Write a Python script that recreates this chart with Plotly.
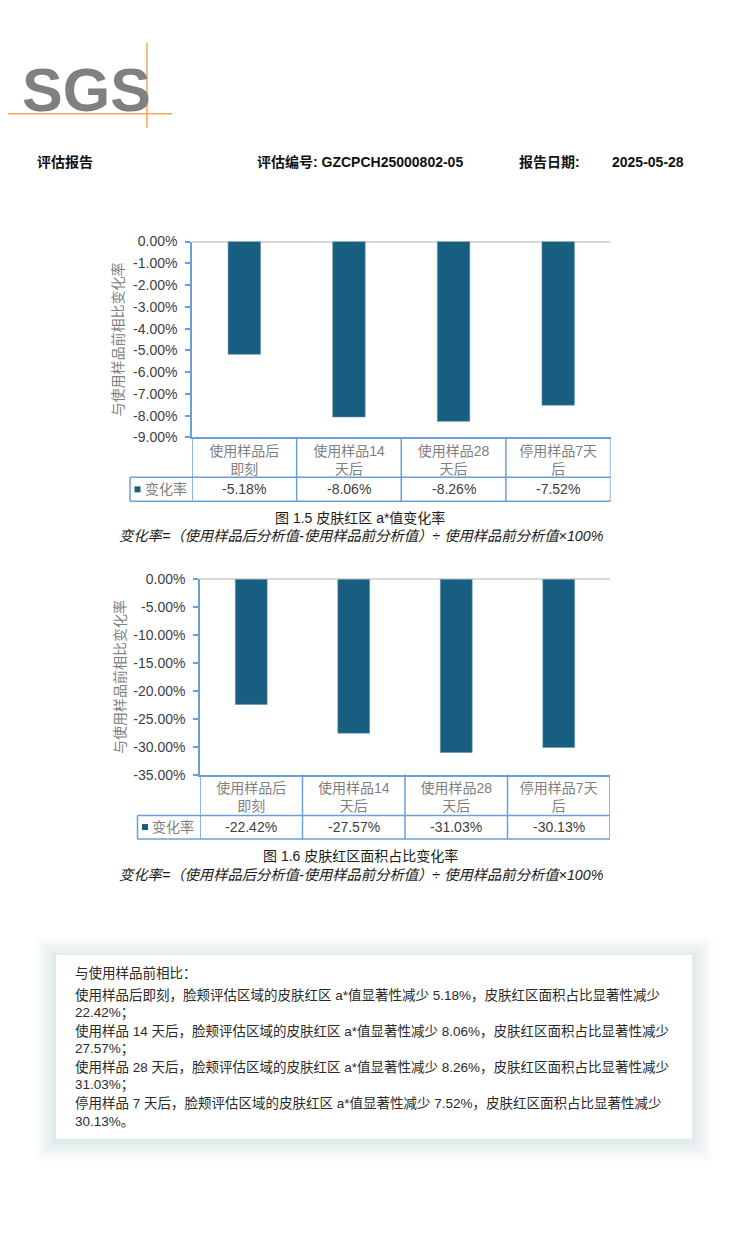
import plotly.graph_objects as go

# The page body keeps the browser's default 8px margin, so the figure is
# sized to fill the remaining area of the 750x1256 window.
PAGE_W, PAGE_H, BODY_M = 750, 1256, 8
W, H = PAGE_W - 2 * BODY_M, PAGE_H - 2 * BODY_M
# observed vertical mapping of the photographed page (y_photo = k*y + c)
V_K, V_C = 0.988, 7.3

# ---------------- data ----------------
categories = ["使用样品后<br>即刻", "使用样品14<br>天后", "使用样品28<br>天后", "停用样品7天<br>后"]
series_name = "变化率"
a_values = [-5.18, -8.06, -8.26, -7.52]
area_values = [-22.42, -27.57, -31.03, -30.13]
a_ticks = [0, -1, -2, -3, -4, -5, -6, -7, -8, -9]
area_ticks = [0, -5, -10, -15, -20, -25, -30, -35]
y_title = "与使用样品前相比变化率"
caption_a = "图 1.5 皮肤红区 a*值变化率"
caption_area = "图 1.6 皮肤红区面积占比变化率"
formula = "变化率=（使用样品后分析值-使用样品前分析值）÷ 使用样品前分析值×100%"
summary_intro = "与使用样品前相比："
summary_periods = ["使用样品后即刻", "使用样品 14 天后", "使用样品 28 天后", "停用样品 7 天后"]
header_left = "评估报告"
header_no = "评估编号: GZCPCH25000802-05"
header_date_label = "报告日期:"
header_date = "2025-05-28"
logo_text = "SGS"

# ---------------- style ----------------
BAR = "#175e80"
BLUE = "#6a9fd8"
GRAY_TXT = "#7f7f7f"
DARK_TXT = "#404040"
FONT = "Liberation Sans, Noto Sans CJK SC, sans-serif"


def px(x):
    """target pixel x -> paper fraction"""
    return (x - BODY_M) / W


def py(y):
    """target pixel y -> paper fraction"""
    yy = (y - V_C) / V_K
    return 1 - (yy - BODY_M) / H


def fmt_pct(v):
    return f"{v:.2f}%"


charts = [
    dict(vals=a_values, ticks=a_ticks, left=192, right=610.5, top=241, bottom=437,
         split=477, tbottom=501, legleft=130, title_x=118, cap_y=518, form_y=536,
         val_y=489, ax="", caption=caption_a),
    dict(vals=area_values, ticks=area_ticks, left=200, right=610, top=579, bottom=774.5,
         split=815.5, tbottom=839, legleft=137.5, title_x=120, cap_y=856, form_y=875,
         val_y=827, ax="2", caption=caption_area),
]

fig = go.Figure()
shapes = []
annotations = []

for c in charts:
    ax = c["ax"]
    xa = "x" + ax
    ya = "y" + ax
    fig.add_trace(go.Bar(
        x=list(range(len(categories))), y=c["vals"], name=series_name,
        xaxis=xa, yaxis=ya, width=0.31,
        marker=dict(color=BAR, line=dict(color="#5f8ea8", width=0.6)),
        showlegend=False, hoverinfo="skip",
    ))
    fig.layout["xaxis" + ax] = dict(
        domain=[px(c["left"]), px(c["right"])], range=[-0.5, len(categories) - 0.5],
        anchor=ya, showline=True, linecolor=BLUE, linewidth=1.5, ticks="",
        tickvals=list(range(len(categories))), ticktext=categories,
        tickfont=dict(family=FONT, size=14, color=GRAY_TXT), showgrid=False,
        zeroline=False, fixedrange=True, ticklabelstandoff=0,
    )
    fig.layout["yaxis" + ax] = dict(
        domain=[py(c["bottom"]), py(c["top"])], range=[min(c["ticks"]), 0],
        anchor=xa, showline=True, linecolor=BLUE, linewidth=1.5,
        ticks="outside", ticklen=5, tickcolor=BLUE, tickwidth=1.5,
        tickvals=c["ticks"], ticktext=[fmt_pct(t) for t in c["ticks"]],
        tickfont=dict(family=FONT, size=14, color=DARK_TXT),
        showgrid=False, zeroline=True, zerolinecolor="#d9d9d9", zerolinewidth=1.5,
        fixedrange=True, ticklabelstandoff=5,
    )
    # data table lines
    for i in range(len(categories) + 1):
        shapes.append(dict(type="line", xref=xa, yref="paper", x0=i - 0.5, x1=i - 0.5,
                           y0=py(c["tbottom"]), y1=py(c["bottom"]),
                           line=dict(color=BLUE, width=1.5)))
    for yy in (c["split"], c["tbottom"]):
        shapes.append(dict(type="line", xref="paper", yref="paper", x0=px(c["legleft"]),
                           x1=px(c["right"]), y0=py(yy), y1=py(yy),
                           line=dict(color=BLUE, width=1.5)))
    shapes.append(dict(type="line", xref="paper", yref="paper", x0=px(c["legleft"]),
                       x1=px(c["legleft"]), y0=py(c["tbottom"]), y1=py(c["split"]),
                       line=dict(color=BLUE, width=1.5)))
    # legend key square
    lx = c["legleft"] + 7.5
    shapes.append(dict(type="rect", xref="paper", yref="paper", x0=px(lx - 3), x1=px(lx + 3),
                       y0=py(c["val_y"] + 3), y1=py(c["val_y"] - 3),
                       fillcolor=BAR, line=dict(width=0)))
    annotations.append(dict(xref="paper", yref="paper", x=px(lx + 5), y=py(c["val_y"]),
                            text=series_name, showarrow=False, xanchor="left", yanchor="middle",
                            font=dict(family=FONT, size=14, color=GRAY_TXT)))
    # values row
    for i, v in enumerate(c["vals"]):
        annotations.append(dict(xref=xa, yref="paper", x=i, y=py(c["val_y"]), text=fmt_pct(v),
                                showarrow=False, xanchor="center", yanchor="middle",
                                font=dict(family=FONT, size=14, color=DARK_TXT)))
    # y title
    annotations.append(dict(xref="paper", yref="paper", x=px(c["title_x"]),
                            y=py((c["top"] + c["bottom"]) / 2), text=y_title, textangle=-90,
                            showarrow=False, xanchor="center", yanchor="middle",
                            font=dict(family=FONT, size=14, color=GRAY_TXT)))
    # captions
    annotations.append(dict(xref="paper", yref="paper", x=px(360), y=py(c["cap_y"]),
                            text=c["caption"], showarrow=False, xanchor="center", yanchor="middle",
                            font=dict(family=FONT, size=14, color="#1a1a1a")))
    annotations.append(dict(xref="paper", yref="paper", x=px(361), y=py(c["form_y"]),
                            text="<i>" + formula + "</i>", showarrow=False, xanchor="center",
                            yanchor="middle", font=dict(family=FONT, size=14.3, color="#1a1a1a")))

# ---------------- header ----------------
for txt, x in ((header_left, 35), (header_no, 255), (header_date_label, 517), (header_date, 610)):
    annotations.append(dict(xref="paper", yref="paper", x=px(x), y=py(161), text="<b>" + txt + "</b>",
                            showarrow=False, xanchor="left", yanchor="middle",
                            font=dict(family=FONT, size=14, color="#111111")))

# ---------------- logo ----------------
annotations.append(dict(xref="paper", yref="paper", x=px(86), y=py(89), text="<b>" + logo_text + "</b>",
                        showarrow=False, xanchor="center", yanchor="middle",
                        font=dict(family="Liberation Sans Narrow, Liberation Sans, sans-serif",
                                  size=61, color="#808080")))
shapes.append(dict(type="line", xref="paper", yref="paper", x0=px(BODY_M), x1=px(172),
                   y0=py(113), y1=py(113), line=dict(color="#f2a65a", width=1.5), layer="above"))
shapes.append(dict(type="line", xref="paper", yref="paper", x0=px(147), x1=px(147), y0=py(127), y1=py(42),
                   line=dict(color="#f2a65a", width=1.5), layer="above"))

# ---------------- summary box ----------------
bx0, bx1, by0, by1 = 56, 692, 955, 1139
for k in range(10, 0, -1):
    d = k * 2.0
    shapes.append(dict(type="rect", xref="paper", yref="paper", x0=px(bx0 - d), x1=px(bx1 + d),
                       y0=py(by1 + d + 3), y1=py(by0 - d + 2),
                       fillcolor="rgba(125,145,175,0.02)", line=dict(width=0), layer="below"))
shapes.append(dict(type="rect", xref="paper", yref="paper", x0=px(bx0), x1=px(bx1),
                   y0=py(by1), y1=py(by0), fillcolor="white", line=dict(width=0), layer="below"))

lines = [summary_intro]
for i, p in enumerate(summary_periods):
    end = "。" if i == len(summary_periods) - 1 else "；"
    lines.append(f"{p}，脸颊评估区域的皮肤红区 a*值显著性减少 {abs(a_values[i]):.2f}%，皮肤红区面积占比显著性减少")
    lines.append(f"{abs(area_values[i]):.2f}%{end}")
line_y = [973, 995, 1013.5, 1031, 1049, 1067, 1085, 1103, 1121.5]
for txt, yy in zip(lines, line_y):
    annotations.append(dict(xref="paper", yref="paper", x=px(72.5), y=py(yy), text=txt,
                            showarrow=False, xanchor="left", yanchor="middle",
                            font=dict(family=FONT, size=13.5, color="#2a2a2a")))

fig.update_layout(
    width=W, height=H, autosize=False,
    margin=dict(l=0, r=0, t=0, b=0),
    paper_bgcolor="white", plot_bgcolor="rgba(0,0,0,0)",
    shapes=shapes, annotations=annotations, showlegend=False,
)

fig.write_html("out.html", config={"displayModeBar": False})
